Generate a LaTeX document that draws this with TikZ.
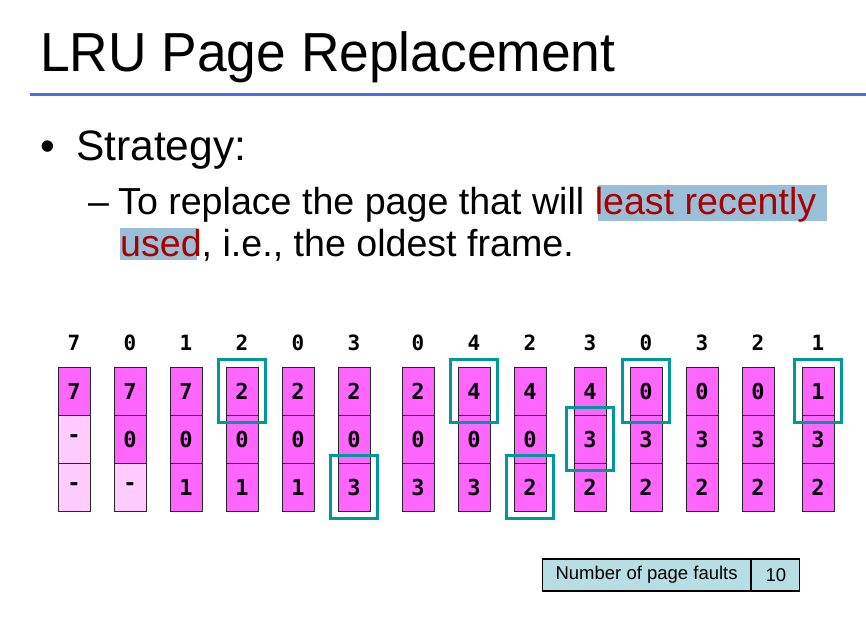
\documentclass[tikz,border=0pt]{standalone}
\usepackage{fontspec}
\setmainfont{Liberation Sans}
\newfontfamily\cellfont{DejaVu Sans Mono}
\definecolor{rulecol}{RGB}{66,114,232}
\definecolor{lrured}{RGB}{170,0,0}
\definecolor{marker}{RGB}{153,192,216}
\definecolor{pagefill}{RGB}{255,102,255}
\definecolor{emptyfill}{RGB}{255,204,255}
\definecolor{hitcol}{RGB}{0,153,153}
\definecolor{faultfill}{RGB}{183,222,228}
\newcommand{\fsz}[1]{\fontsize{#1}{#1}\selectfont}
\begin{document}
\begin{tikzpicture}[x=1pt,y=-1pt,
  txt/.style={anchor=base west, inner sep=0pt},
  reflabel/.style={inner sep=0pt, font=\cellfont\bfseries\fsz{21}},
  cell/.style={draw=black!85, line width=0.8pt, minimum width=32pt,
    minimum height=48pt, inner sep=0pt, font=\cellfont\bfseries\fsz{22}},
  hlbox/.style={draw=hitcol, line width=3pt},
  faultbox/.style={draw=black, line width=1.2pt, fill=faultfill,
    minimum height=32pt, inner sep=0pt, font=\fsz{18.5}}]
\useasboundingbox[fill=white] (0,0) rectangle (866,623);

% heading and rule
\node[txt, font=\fsz{55}, xscale=0.97] (title) at (40,72) {LRU Page Replacement};
\coordinate (ruleL) at (30,95);
\coordinate (ruleR) at (866,95);
\draw[rulecol, line width=3pt] (ruleL) -- (ruleR);

% bullet text with marked words
\fill[marker] (598,185) rectangle (827,221);
\fill[marker] (120,228) rectangle (197,260);
\node[txt, font=\fsz{42}] (bullet) at (40,160) {•};
\node[txt, font=\fsz{42.5}] (strategy) at (76,160) {Strategy:};
\node[txt, font=\fsz{37.6}] (dash) at (88,214) {–};
\node[txt, font=\fsz{37.6}] (line1) at (118,214)
  {To replace the page that will \textcolor{lrured}{least recently}};
\node[txt, font=\fsz{37.6}] (line2) at (120,256)
  {\textcolor{lrured}{used}, i.e., the oldest frame.};

% reference string and frame contents
\foreach \i/\x/\r/\a/\b/\c in {
  1/74/7/7/-/-, 2/130/0/7/0/-, 3/186/1/7/0/1, 4/242/2/2/0/1,
  5/298/0/2/0/1, 6/354/3/2/0/3, 7/418/0/2/0/3, 8/474/4/4/0/3,
  9/530/2/4/0/2, 10/590/3/4/3/2, 11/646/0/0/3/2, 12/702/3/0/3/2,
  13/758/2/0/3/2, 14/818/1/1/3/2} {
  \node[reflabel] (r\i) at (\x,343) {\r};
  \foreach \v [count=\j] in {\a,\b,\c} {
    \def\fc{pagefill}
    \if-\v \def\fc{emptyfill}\fi
    \node[cell, fill=\fc] (c\i-\j) at (\x,{343+48*\j}) {\v};
  }
}

% newly loaded pages
\foreach \i/\j in {4/1, 6/3, 8/1, 9/3, 10/2, 11/1, 14/1}
  \draw[hlbox] ([shift={(-7,-7)}]c\i-\j.north west)
    rectangle ([shift={(7,7)}]c\i-\j.south east);

% fault counter
\node[faultbox, minimum width=208pt, anchor=west] (nf) at (542,575)
  {Number of page faults};
\node[faultbox, minimum width=48pt, anchor=west] (nv) at (nf.east) {10};
\end{tikzpicture}
\end{document}
